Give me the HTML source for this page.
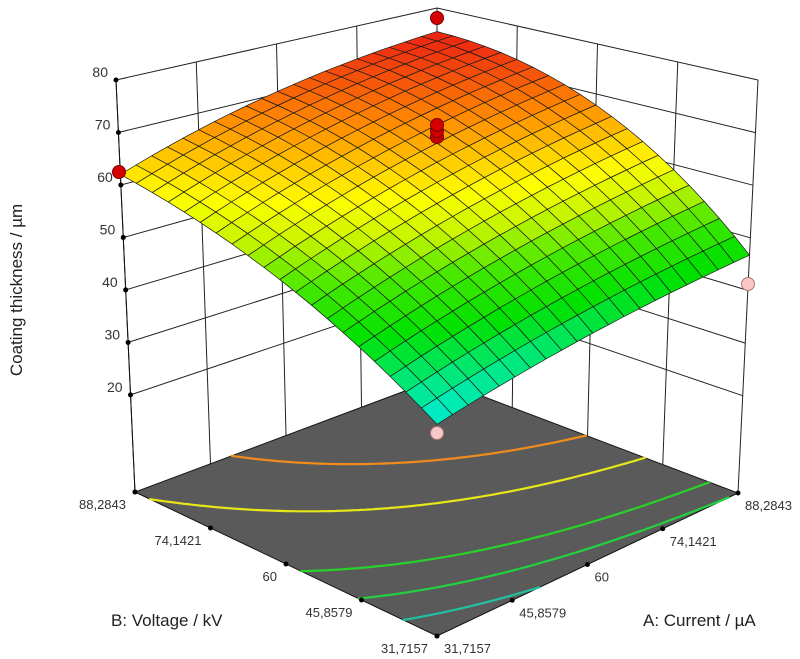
<!DOCTYPE html>
<html><head><meta charset="utf-8"><style>
html,body{margin:0;padding:0;background:#fff;}
svg{display:block;font-family:"Liberation Sans",sans-serif;}
</style></head><body>
<svg id="s" width="800" height="659" viewBox="0 0 800 659" xmlns="http://www.w3.org/2000/svg"></svg>
<script>
var S=document.getElementById('s');var NS='http://www.w3.org/2000/svg';
function el(t,a,txt){var e=document.createElementNS(NS,t);for(var k in a)e.setAttribute(k,a[k]);if(txt!=null)e.textContent=txt;S.appendChild(e);return e;}
var F=[437,636],R=[738,493],L=[135,492],K=[437,379];
var FT=[437,181],RT=[758,80],LT=[116,80],KT=[437,8];
function bl(p00,p10,p01,p11,a,b){return[(1-a)*(1-b)*p00[0]+a*(1-b)*p10[0]+(1-a)*b*p01[0]+a*b*p11[0],(1-a)*(1-b)*p00[1]+a*(1-b)*p10[1]+(1-a)*b*p01[1]+a*b*p11[1]];}
function P(a,b,z){var f=bl(F,R,L,K,a,b),t=bl(FT,RT,LT,KT,a,b),u=(z-1.5)/78.5;return[f[0]+u*(t[0]-f[0]),f[1]+u*(t[1]-f[1])];}
function fz(a,b){var f0=38+36*b-12*b*b,f1=46.7+56*b-27.7*b*b;var h=1+1*b;return (1-a)*f0+a*f1+4*h*a*(1-a);}
function pts(arr){return arr.map(function(p){return p[0].toFixed(1)+','+p[1].toFixed(1)}).join(' ');}
el('polygon',{points:pts([F,R,K,L]),fill:'#5a5a5a',stroke:'#111','stroke-width':1});
var ws={stroke:'#222','stroke-width':1,fill:'none'};
for(var z=20;z<=80;z+=10){el('polyline',Object.assign({points:pts([P(0,1,z),P(1,1,z),P(1,0,z)])},ws));}
[0,0.25,0.5,0.75].forEach(function(a){el('line',Object.assign({x1:P(a,1,1.5)[0],y1:P(a,1,1.5)[1],x2:P(a,1,80)[0],y2:P(a,1,80)[1]},ws));});
[0,0.25,0.5,0.75].forEach(function(b){el('line',Object.assign({x1:P(1,b,1.5)[0],y1:P(1,b,1.5)[1],x2:P(1,b,80)[0],y2:P(1,b,80)[1]},ws));});
el('line',Object.assign({x1:K[0],y1:K[1],x2:KT[0],y2:KT[1]},ws));
var lev=[[fz(0.32,1),'#f08c1e'],[fz(0,0.95),'#e6e619'],[fz(0,0.45),'#28d228'],[fz(0,0.26),'#22d040'],[fz(0.34,0),'#20c0a0']];
var N=90;
lev.forEach(function(L2){var v=L2[0],d='';
for(var i=0;i<N;i++)for(var j=0;j<N;j++){var a0=i/N,a1=(i+1)/N,b0=j/N,b1=(j+1)/N;
var c=[[a0,b0],[a1,b0],[a1,b1],[a0,b1]];var cv=c.map(function(q){return fz(q[0],q[1])});var cr=[];
for(var k=0;k<4;k++){var k2=(k+1)%4;if((cv[k]-v)*(cv[k2]-v)<0){var t=(v-cv[k])/(cv[k2]-cv[k]);cr.push([c[k][0]+t*(c[k2][0]-c[k][0]),c[k][1]+t*(c[k2][1]-c[k][1])]);}}
if(cr.length>=2){var p1=P(cr[0][0],cr[0][1],1.5),p2=P(cr[1][0],cr[1][1],1.5);d+='M'+p1[0].toFixed(1)+' '+p1[1].toFixed(1)+'L'+p2[0].toFixed(1)+' '+p2[1].toFixed(1);}}
el('path',{d:d,stroke:L2[1],'stroke-width':2.2,fill:'none','stroke-linecap':'round'});});
var stops=[[0,[0,235,220]],[0.12,[0,232,120]],[0.24,[0,225,0]],[0.38,[70,232,0]],[0.5,[200,245,0]],[0.6,[255,255,0]],[0.8,[255,140,0]],[1,[235,30,20]]];
function col(v){var t=(v-38)/(75.5-38);t=Math.max(0,Math.min(1,t));for(var i=1;i<stops.length;i++){if(t<=stops[i][0]){var s0=stops[i-1],s1=stops[i],u=(t-s0[0])/(s1[0]-s0[0]);return 'rgb('+[0,1,2].map(function(k){return Math.round(s0[1][k]+u*(s1[1][k]-s0[1][k]))}).join(',')+')';}}return 'rgb(235,30,20)';}
var M=20,cells=[];
for(var i=0;i<M;i++)for(var j=0;j<M;j++)cells.push([i,j]);
cells.sort(function(p,q){return (q[0]+q[1])-(p[0]+p[1]);});
var sg=document.createElementNS(NS,'g');S.appendChild(sg);
cells.forEach(function(c){var a0=c[0]/M,a1=(c[0]+1)/M,b0=c[1]/M,b1=(c[1]+1)/M;
var q=[[a0,b0],[a1,b0],[a1,b1],[a0,b1]];var pp=q.map(function(r){return P(r[0],r[1],fz(r[0],r[1]))});
var v=fz((a0+a1)/2,(b0+b1)/2);var e=document.createElementNS(NS,'polygon');e.setAttribute('points',pts(pp));e.setAttribute('fill',col(v));e.setAttribute('stroke','#1a1a1a');e.setAttribute('stroke-width','0.7');e.setAttribute('stroke-linejoin','round');sg.appendChild(e);});
el('line',{x1:L[0],y1:L[1],x2:LT[0],y2:LT[1],stroke:'#111','stroke-width':1});
for(var z=20;z<=80;z+=10){var p=P(0,1,z);el('circle',{cx:p[0],cy:p[1],r:2.5,fill:'#000'});el('text',{x:p[0]-8,y:p[1]-3,'font-size':14,fill:'#333','text-anchor':'end'},String(z));}
el('circle',{cx:L[0],cy:L[1],r:2.5,fill:'#000'});
var lab=['31,7157','45,8579','60','74,1421','88,2843'];
for(var k=0;k<5;k++){var t=k/4;var pb=P(0,t,1.5),pa=P(t,0,1.5);
el('circle',{cx:pb[0],cy:pb[1],r:2.5,fill:'#000'});el('circle',{cx:pa[0],cy:pa[1],r:2.5,fill:'#000'});
el('text',{x:pb[0]-9,y:pb[1]+17,'font-size':13,fill:'#333','text-anchor':'end'},lab[k]);
el('text',{x:pa[0]+7,y:pa[1]+17,'font-size':13,fill:'#333','text-anchor':'start'},lab[k]);}
el('text',{x:111,y:626,'font-size':17,fill:'#222'},'B: Voltage / kV');
el('text',{x:643,y:626,'font-size':17,fill:'#222'},'A: Current / µA');
el('text',{x:22,y:290,'font-size':17,fill:'#222','text-anchor':'middle',transform:'rotate(-90 22 290)'},'Coating thickness / µm');
function dot(x,y,f){el('circle',{cx:x,cy:y,r:6.5,fill:f,stroke:f=='#f8c8c8'?'#a77':'#700','stroke-width':1});}
dot(437,18,'#d40000');dot(119,172,'#d40000');
dot(437,137,'#c80000');dot(437,131,'#d40000');dot(437,125,'#d40000');
dot(748,284,'#f8c8c8');dot(437,433,'#f8c8c8');
</script>
</body></html>
